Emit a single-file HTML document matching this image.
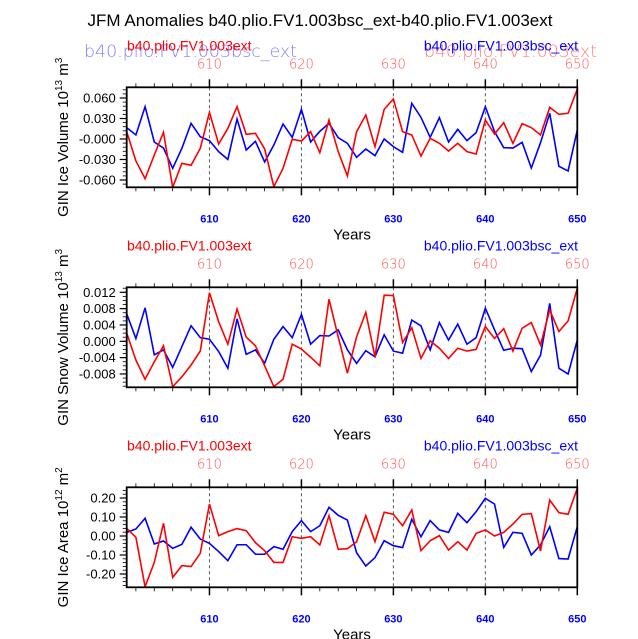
<!DOCTYPE html>
<html><head><meta charset="utf-8"><style>
html,body{margin:0;padding:0;background:#fff;}
svg{display:block;font-family:"Liberation Sans",sans-serif;}
</style></head><body>
<svg id="chart" width="638" height="639" viewBox="0 0 638 639">
<text x="320" y="26" font-size="17" text-anchor="middle" fill="#000">JFM Anomalies b40.plio.FV1.003bsc_ext-b40.plio.FV1.003ext</text>
<text x="84" y="57" font-size="17" fill="#8080ff" font-family="DejaVu Sans, sans-serif" font-weight="200" textLength="213" lengthAdjust="spacingAndGlyphs">b40.plio.FV1.003bsc_ext</text>
<text x="424" y="57" font-size="17" fill="#ff8080" font-family="DejaVu Sans, sans-serif" font-weight="200" textLength="173" lengthAdjust="spacingAndGlyphs">b40.plio.FV1.003ext</text>
<g id="panels"></g>
</svg>
<script>
const years = [];
for (let y = 601; y <= 650; y++) years.push(y);
const iceVolRed = [.0107,-.0322,-.058,-.0234,.0098,-.0707,-.0356,-.0385,-.0137,.039,-.0073,.0156,.0473,.0068,.0083,-.0146,-.0698,-.0429,-.0005,-.0029,.0107,-.02,.0278,-.0185,-.0541,
 .0107,.0351,-.0112,.0434,.0585,.0107,.0059,-.0249,.001,-.0063,-.0176,-.0063,-.0185,-.022,.0278,.0073,.0239,-.0063,.0224,.0166,.0059,.0463,.0361,.0376,.0727];
const iceVolBlue = [.0166,.0059,.0473,-.0044,-.0132,-.0429,-.0137,.0229,.0034,-.0024,-.0185,-.0298,.0293,-.0161,-.0034,-.0336,-.0088,.022,.0024,.0434,-.0044,.0112,.0229,.002,-.0063,
 -.0268,-.0146,-.0244,0,-.0112,-.0195,.0522,.0317,.0024,.0312,-.0044,.0141,-.0024,.0093,.0473,.0107,-.0127,-.0132,-.0049,-.0424,-.0054,.0376,-.04,-.0468,.0132];
const snowRed = [.002,-.0046,-.0093,-.005,-.0011,-.0111,-.0087,-.0058,-.0024,.0119,.0048,-.0007,.0079,.001,-.0011,-.006,-.0111,-.0093,-.0007,-.0019,-.0039,-.006,.0103,.0011,-.0078,
 .0011,.0071,-.0038,.0113,.0112,-.0003,.0033,-.0042,.0001,-.0017,-.0042,-.0017,-.0024,-.002,.0036,.0007,.0031,-.0024,.0032,.0046,-.0009,.0077,.0024,.005,.013];
const snowBlue = [.0067,.0007,.0082,-.0033,-.0021,-.0064,-.0013,.0038,.0009,.0005,-.0025,-.0066,.0055,-.0032,-.0021,-.0054,.0005,.0036,.0009,.0066,-.0007,.0014,.0013,.0028,-.0021,
 -.0054,-.0023,-.0038,.0016,-.0024,-.0029,.0052,.0038,-.0021,.0046,.0003,.0042,-.0007,.0009,.0081,.0028,-.0022,-.0017,-.0018,-.0074,-.0034,.0093,-.0066,-.008,.0003];
const areaRed = [.04,-.007,-.267,-.139,.067,-.218,-.156,-.161,-.091,.168,.002,.023,.039,.028,-.035,-.077,-.139,-.139,-.004,-.012,-.004,-.047,.107,-.07,-.067,
 -.03,.107,-.03,.125,.114,.054,.137,-.077,-.025,.002,-.074,-.03,-.074,.014,.032,0,.019,.063,.114,.118,-.079,.189,.123,.114,.251];
const areaBlue = [.019,.037,.093,-.042,-.026,-.065,-.044,.046,-.016,-.039,-.082,-.13,-.046,-.046,-.096,-.096,-.056,-.07,.023,.081,.023,.054,.151,.109,.084,
 -.088,-.158,-.114,-.025,-.051,-.061,.088,-.004,.081,.032,.019,.119,.07,.128,.198,.168,-.06,.019,.014,-.1,-.047,.049,-.119,-.121,.049];
const xTicks = [610,620,630,640,650];
const ticks1 = [0.06,0.03,0,-0.03,-0.06];
const labels1 = ["0.060","0.030","-0.000","-0.030","-0.060"];
const ticks2 = [0.012,0.008,0.004,0,-0.004,-0.008];
const labels2 = ["0.012","0.008","0.004","0.000","-0.004","-0.008"];
const ticks3 = [0.2,0.1,0,-0.1,-0.2];
const labels3 = ["0.20","0.10","0.00","-0.10","-0.20"];

const NS = "http://www.w3.org/2000/svg";
const root = document.getElementById('panels');
function mk(tag, attrs, parent, text) {
  const e = document.createElementNS(NS, tag);
  for (const k in attrs) e.setAttribute(k, attrs[k]);
  if (text !== undefined) e.textContent = text;
  parent.appendChild(e);
  return e;
}
const X0 = 126.7, X1 = 577.3, XMIN = 601, XMAX = 650;
function xs(v) { return X0 + (v - XMIN) / (XMAX - XMIN) * (X1 - X0); }

const panels = [
  {name:'ice-volume', top:87.3, zeroY:139, unit:0.03, unitPx:20.5, ticks:ticks1, labels:labels1, minor:0.006, red:iceVolRed, blue:iceVolBlue, title:'GIN Ice Volume 10', sup:'13', tail:' m', sup2:'3'},
  {name:'snow-volume', top:287.3, zeroY:341.3, unit:0.004, unitPx:16.33, ticks:ticks2, labels:labels2, minor:0.001, red:snowRed, blue:snowBlue, title:'GIN Snow Volume 10', sup:'13', tail:' m', sup2:'3'},
  {name:'ice-area', top:487.3, zeroY:536, unit:0.1, unitPx:19.0, ticks:ticks3, labels:labels3, minor:0.02, red:areaRed, blue:areaBlue, title:'GIN Ice Area 10', sup:'12', tail:' m', sup2:'2'}
];

panels.forEach((p) => {
  const g = mk('g', {}, root);
  
  
  const bot = p.top + 100;
  const ys = v => p.zeroY - v / p.unit * p.unitPx;
  const hr = mk('text', {x:127, y:p.top-37, 'font-size':14, fill:'#ff0000'}, g, 'b40.plio.FV1.003ext');
  
  
  const hb = mk('text', {x:578, y:p.top-37, 'font-size':14, fill:'#0000ff', 'text-anchor':'end'}, g, 'b40.plio.FV1.003bsc_ext');
  
  
  [610,620,630,640].forEach(v => {
    const l = mk('line', {x1:xs(v), x2:xs(v), y1:p.top, y2:bot, stroke:'#555', 'stroke-width':1, 'stroke-dasharray':'3,3'}, g);
    
    
  });
  for (let v = 602; v <= 650; v += 2) {
    const major = v % 10 === 0;
    const len = major ? 8 : 4;
    mk('line', {x1:xs(v), x2:xs(v), y1:p.top, y2:p.top-len, stroke:'#000', 'stroke-width': major?1.5:0.8}, g);
    mk('line', {x1:xs(v), x2:xs(v), y1:bot, y2:bot+len, stroke:'#000', 'stroke-width': major?1.5:0.8}, g);
  }
  xTicks.forEach(v => {
    const t = mk('text', {x:xs(v), y:p.top-19, 'font-size':13, fill:'#ff5050', 'text-anchor':'middle', 'font-family':'DejaVu Sans, sans-serif', 'font-weight':'200'}, g, String(v));
    
    
    const b = mk('text', {x:xs(v), y:bot+35, 'font-size':11, fill:'#0000ff', 'text-anchor':'middle', 'font-weight':'bold'}, g, String(v));
    
    
  });
  const xt = mk('text', {x:352, y:bot+52, 'font-size':15, 'text-anchor':'middle', fill:'#000'}, g, 'Years');
  
  
  const ymax = p.zeroY - p.top, yr = ymax / p.unitPx * p.unit;
  const yMinV = -(bot - p.zeroY) / p.unitPx * p.unit;
  for (let k = Math.ceil(yMinV / p.minor); k * p.minor <= yr; k++) {
    const y = ys(k * p.minor);
    mk('line', {x1:X0, x2:X0-4, y1:y, y2:y, stroke:'#000', 'stroke-width':0.8}, g);
  }
  p.ticks.forEach((v, i) => {
    mk('line', {x1:X0, x2:X0-7, y1:ys(v), y2:ys(v), stroke:'#000', 'stroke-width':1.2}, g);
    const t = mk('text', {x:X0-11, y:ys(v)+4.5, 'font-size':13, 'text-anchor':'end', fill:'#000'}, g, p.labels[i]);
    
    
  });
  const cy = p.top + 50;
  const yt = mk('text', {transform:`translate(68,${cy}) rotate(-90)`, 'font-size':15, 'text-anchor':'middle', fill:'#000'}, g);
  
  
  mk('tspan', {}, yt, p.title);
  mk('tspan', {dy:-6, 'font-size':10}, yt, p.sup);
  mk('tspan', {dy:6}, yt, p.tail);
  mk('tspan', {dy:-6, 'font-size':10}, yt, p.sup2);
  const cid = 'clip-' + p.name;
  const cp = mk('clipPath', {id:cid}, g);
  mk('rect', {x:X0, y:p.top, width:X1-X0, height:100}, cp);
  const blue = mk('polyline', {points: years.map((yv,i)=>xs(yv)+','+ys(p.blue[i])).join(' '), fill:'none', stroke:'#0000ff', 'stroke-width':1.6, 'clip-path':`url(#${cid})`}, g);
  
  
  const red = mk('polyline', {points: years.map((yv,i)=>xs(yv)+','+ys(p.red[i])).join(' '), fill:'none', stroke:'#ff0000', 'stroke-width':1.6, 'clip-path':`url(#${cid})`}, g);
  
  
  const fr = mk('rect', {x:X0, y:p.top, width:X1-X0, height:100, fill:'none', stroke:'#000', 'stroke-width':1.8}, g);
  
  
});
</script>
</body></html>
